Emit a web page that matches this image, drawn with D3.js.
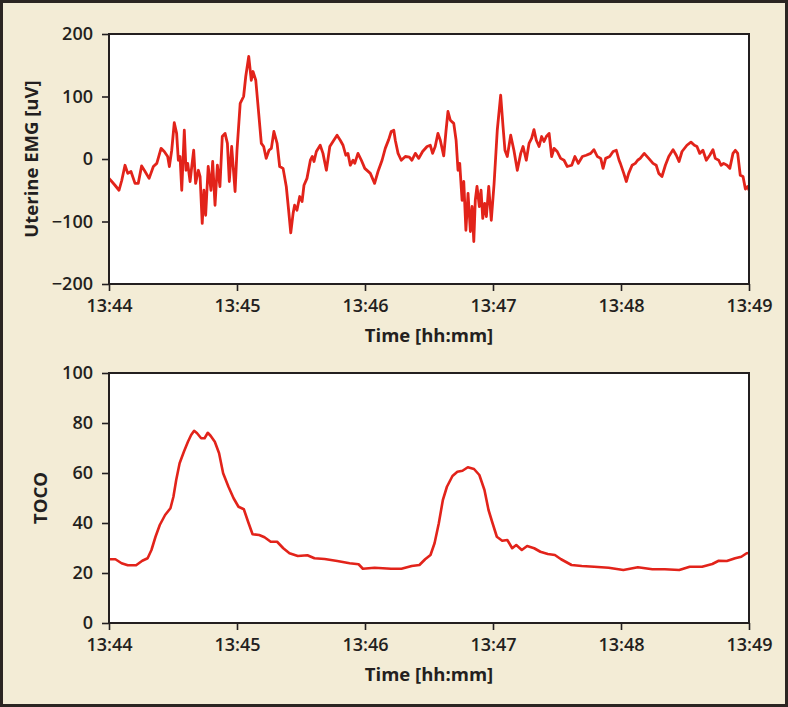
<!DOCTYPE html>
<html>
<head>
<meta charset="utf-8">
<script src="https://cdn.jsdelivr.net/npm/d3@7"></script>
<style>
    html, body { margin: 0; padding: 0; background: #f3ecd6; }
    svg { display: block; }
    .tick text { font-family: "Open Sans", "DejaVu Sans", sans-serif; font-weight: 600; font-size: 18px; fill: #231f20; }
    .axis-title { font-family: "Open Sans", "DejaVu Sans", sans-serif; font-weight: 700; font-size: 18.5px; fill: #231f20; }
</style>
</head>
<body>
<div id="chart"></div>
<script>
// Uterine EMG trace, seconds after 13:44:00 and amplitude in uV
const emgSeconds = [
    0, 1.3, 2.8, 4.7, 6.0, 7.5, 8.8, 10.3, 12.2, 13.7, 15.3, 16.9, 18.8, 20.8, 22.4,
    24.4, 25.9, 27.5, 28.3, 29.4, 30.6, 31.7, 32.5, 33.3, 34.1, 35.3, 36.1, 36.9, 38.0,
    38.8, 39.7, 40.6, 41.9, 42.7, 43.7, 44.5, 45.3, 46.5, 47.8, 48.6, 49.7, 50.8, 52.0,
    53.1, 54.4, 55.5, 56.4, 57.5, 59.1, 60.0, 61.5, 63.1, 64.1, 65.5, 66.7, 67.5, 68.8,
    70.3, 71.4, 72.5, 73.7, 75.0, 76.1, 77.3, 78.8, 80.0, 81.6, 83.1, 84.2, 85.2, 86.3,
    87.0, 88.1, 89.4, 90.5, 91.4, 92.8, 94.4, 95.3, 96.1, 97.2, 99.0, 100.3, 101.9, 103.5,
    105.0, 106.9, 108.4, 109.7, 111.0, 112.0, 113.1, 114.4, 115.2, 116.7, 118.3, 119.9,
    122.5, 124.5, 126.1, 128.0, 129.5, 131.1, 132.3, 133.5, 134.2, 135.5, 137.0, 138.9,
    140.8, 142.0, 143.6, 145.2, 147.0, 149.1, 150.6, 151.7, 152.9, 154.2, 155.3, 156.9,
    158.0, 158.9, 160.0, 161.6, 162.7, 163.6, 164.4, 165.5, 166.3, 167.3, 168.3, 169.4,
    170.2, 171.0, 171.7, 172.5, 173.6, 174.4, 175.2, 176.1, 176.9, 178.0, 179.2, 180.5,
    182.0, 183.6, 184.7, 185.6, 186.7, 188.3, 189.8, 191.4, 193.0, 194.1, 195.6, 196.9,
    198.1, 199.2, 200.3, 201.6, 202.8, 203.9, 205.0, 206.3, 207.5, 208.6, 210.1, 211.7,
    213.3, 214.8, 216.9, 218.4, 220.0, 221.9, 223.7, 225.8, 227.3, 228.9, 230.5, 231.6,
    232.8, 234.7, 236.3, 237.8, 239.1, 239.7, 241.3, 242.5, 243.6, 245.2, 246.7, 247.8,
    249.0, 250.9, 253.0, 255.0, 256.5, 257.7, 259.2, 260.8, 262.4, 264.4, 265.9, 267.2,
    268.6, 270.9, 272.8, 274.4, 275.6, 276.9, 278.4, 280.0, 281.6, 283.1, 284.2, 285.8,
    286.9, 288.1, 289.7, 291.0, 292.5, 293.6, 294.7, 295.9, 297.2, 298.3, 299.4, 300
];
const emgValues = [
    -31, -36, -42, -50, -34, -10, -23, -20, -39, -39, -11, -20, -31, -12, -7,
    17, 12, 4, -12, 14, 58, 41, -2, 4, -50, 46, -18, -7, -36,
    -12, 14, -39, -18, -28, -103, -50, -90, -12, -50, -4, -74, -10, -44,
    36, 41, 25, -36, 20, -52, 14, 89, 100, 132, 164, 126, 140, 126,
    68, 25, 20, 1, 14, 17, 44, 25, -12, -15, -44, -82, -118, -87,
    -74, -82, -60, -68, -42, -31, -2, 4, -4, 12, 22, 9, -18, 20,
    28, 38, 30, 22, 6, 9, -10, -2, -7, 9, -2, -15,
    -23, -39, -20, -2, 17, 31, 44, 46, 30, 9, -2, 4,
    3, -2, 9, 1, 12, 20, 22, 9, 20, 41, 30, 5,
    46, 76, 62, 57, 30, -18, -7, -66, -36, -114, -55, -116,
    -76, -132, -66, -44, -76, -50, -95, -71, -92, -44, -98, -40,
    46, 102, 52, 14, 4, 38, 14, -18, 9, 20, -2, 25,
    33, 47, 30, 20, 36, 28, 36, 41, 4, 17, 12, 1,
    -2, -12, -10, 4, -7, 4, 6, 9, 15, 4, 1, -15,
    1, 4, 12, 14, -2, -7, -23, -36, -23, -10, -7, -2,
    1, 9, 1, -7, -10, -23, -28, -10, 4, 15, 6, -4,
    12, 22, 27, 22, 20, 9, 14, -2, 6, 15, 1, -2,
    -10, -7, -10, -15, 9, 14, 9, -26, -28, -48, -44, -50
];

// TOCO trace, seconds after 13:44:00 and pressure units
const tocoSeconds = [
    0, 3.0, 5.9, 8.8, 12.7, 15.6, 18.1, 19.9, 21.8, 23.8, 26.3, 28.8, 30.2, 31.5, 33.1,
    35.1, 37.0, 38.5, 39.9, 41.3, 43.2, 44.8, 46.3, 47.7, 49.6, 51.6, 53.5, 56.0, 58.4,
    60.7, 63.2, 65.2, 67.3, 70.4, 72.9, 75.8, 78.8, 81.7, 84.6, 88.5, 93.0, 96.3, 101.1,
    107.0, 112.8, 117.0, 119.0, 124.5, 132.2, 137.1, 141.9, 145.5, 148.2, 150.7, 152.6,
    154.6, 156.5, 158.4, 161.0, 163.3, 165.7, 168.2, 171.1, 173.6, 176.0, 177.9, 179.8,
    181.8, 184.3, 186.7, 189.0, 190.9, 193.5, 196.0, 199.3, 202.2, 205.7, 209.0, 211.9,
    216.8, 221.6, 227.4, 234.2, 241.1, 247.9, 254.7, 260.5, 267.3, 272.2, 278.0, 282.8,
    285.8, 289.6, 293.5, 296.4, 298.9, 300
];
const tocoValues = [
    25.5, 25.5, 23.9, 23.1, 23.1, 24.9, 25.9, 29.2, 34.5, 39.2, 43.2, 45.9, 50.5, 57.2, 63.9,
    68.5, 72.5, 75.2, 76.9, 75.9, 73.9, 73.9, 76.1, 74.8, 72.5, 67.9, 59.9, 54.5, 49.9,
    46.5, 45.5, 40.5, 35.5, 35.2, 34.3, 32.5, 32.5, 29.9, 27.9, 26.8, 27.1, 25.9, 25.6,
    24.8, 23.9, 23.5, 21.7, 22.1, 21.7, 21.7, 22.8, 23.2, 25.5, 27.2, 31.9,
    39.9, 49.2, 54.5, 58.8, 60.5, 60.9, 62.3, 61.6, 59.2, 53.2, 45.2, 39.9,
    34.5, 32.9, 33.2, 29.9, 31.2, 29.2, 30.8, 29.9, 28.5, 27.6, 27.2, 25.5,
    23.2, 22.8, 22.5, 22.1, 21.2, 22.3, 21.5, 21.5, 21.2, 22.5, 22.5, 23.6,
    24.9, 24.8, 25.9, 26.5, 27.9, 28.0
];

// Axis ticks
const emgTicks = [-200, -100, 0, 100, 200];
const tocoTicks = [0, 20, 40, 60, 80, 100];
const timeTickMinutes = [0, 1, 2, 3, 4, 5];

const startTime = new Date(2000, 0, 1, 13, 44, 0);
const lineColor = '#e2231a';
const inkColor = '#231f20';

/**
 * Turn parallel seconds/value arrays into points with Date x values
 */
function toPoints(seconds, values) {
    return seconds.map((s, i) => ({
        time: new Date(startTime.getTime() + s * 1000),
        value: values[i]
    }));
}

/**
 * Draw one framed time-series panel
 * @param {Object} svg - root selection
 * @param {Object} opts - panel settings
 */
function drawPanel(svg, opts) {
    const g = svg.append('g')
        .attr('transform', `translate(${opts.left}, ${opts.top})`);

    const xScale = d3.scaleTime()
        .domain([startTime, new Date(startTime.getTime() + 5 * 60000)])
        .range([0, opts.width]);

    const yScale = d3.scaleLinear()
        .domain(opts.yDomain)
        .range([opts.height, 0]);

    // White plot area
    g.append('rect')
        .attr('width', opts.width)
        .attr('height', opts.height)
        .attr('fill', '#ffffff');

    // Signal
    const clipId = `clip-${opts.name}`;
    g.append('clipPath')
        .attr('id', clipId)
        .append('rect')
        .attr('width', opts.width)
        .attr('height', opts.height);

    const line = d3.line()
        .x(d => xScale(d.time))
        .y(d => yScale(d.value));

    g.append('path')
        .datum(opts.data)
        .attr('clip-path', `url(#${clipId})`)
        .attr('fill', 'none')
        .attr('stroke', lineColor)
        .attr('stroke-width', opts.lineWidth)
        .attr('stroke-linejoin', 'round')
        .attr('d', line);

    // Frame
    g.append('rect')
        .attr('width', opts.width)
        .attr('height', opts.height)
        .attr('fill', 'none')
        .attr('stroke', inkColor)
        .attr('stroke-width', 2);

    // X axis
    const xAxis = g.append('g')
        .attr('transform', `translate(0, ${opts.height})`)
        .call(d3.axisBottom(xScale)
            .tickValues(timeTickMinutes.map(m => new Date(startTime.getTime() + m * 60000)))
            .tickFormat(d3.timeFormat('%H:%M'))
            .tickSize(7)
            .tickSizeOuter(0)
            .tickPadding(8));

    // Y axis
    const yAxis = g.append('g')
        .call(d3.axisLeft(yScale)
            .tickValues(opts.yTicks)
            .tickSize(7)
            .tickSizeOuter(0)
            .tickPadding(9));

    [xAxis, yAxis].forEach(axis => {
        axis.select('.domain').remove();
        axis.selectAll('.tick line')
            .attr('stroke', inkColor)
            .attr('stroke-width', 1.6);
        axis.attr('font-family', null).attr('font-size', null);
    });

    // Axis titles
    g.append('text')
        .attr('class', 'axis-title')
        .attr('x', opts.width / 2)
        .attr('y', opts.height + 58)
        .attr('text-anchor', 'middle')
        .text('Time [hh:mm]');

    g.append('text')
        .attr('class', 'axis-title')
        .attr('transform', `translate(${opts.titleX - opts.left}, ${opts.height / 2}) rotate(-90)`)
        .attr('text-anchor', 'middle')
        .text(opts.yTitle);
}

function renderFigure() {
    const width = 788;
    const height = 707;

    const svg = d3.select('#chart')
        .append('svg')
        .attr('width', width)
        .attr('height', height);

    // Beige page with dark border
    svg.append('rect')
        .attr('x', 1.5)
        .attr('y', 1.5)
        .attr('width', width - 3)
        .attr('height', height - 3)
        .attr('fill', '#f3ecd6')
        .attr('stroke', '#2b2522')
        .attr('stroke-width', 3);

    drawPanel(svg, {
        name: 'emg',
        left: 109, top: 34, width: 640, height: 250,
        yDomain: [-200, 200],
        yTicks: emgTicks,
        yTitle: 'Uterine EMG [uV]',
        titleX: 38,
        lineWidth: 2.8,
        data: toPoints(emgSeconds, emgValues)
    });

    drawPanel(svg, {
        name: 'toco',
        left: 109, top: 373, width: 640, height: 250,
        yDomain: [0, 100],
        yTicks: tocoTicks,
        yTitle: 'TOCO',
        titleX: 47,
        lineWidth: 2.6,
        data: toPoints(tocoSeconds, tocoValues)
    });
}

renderFigure();
</script>
</body>
</html>
